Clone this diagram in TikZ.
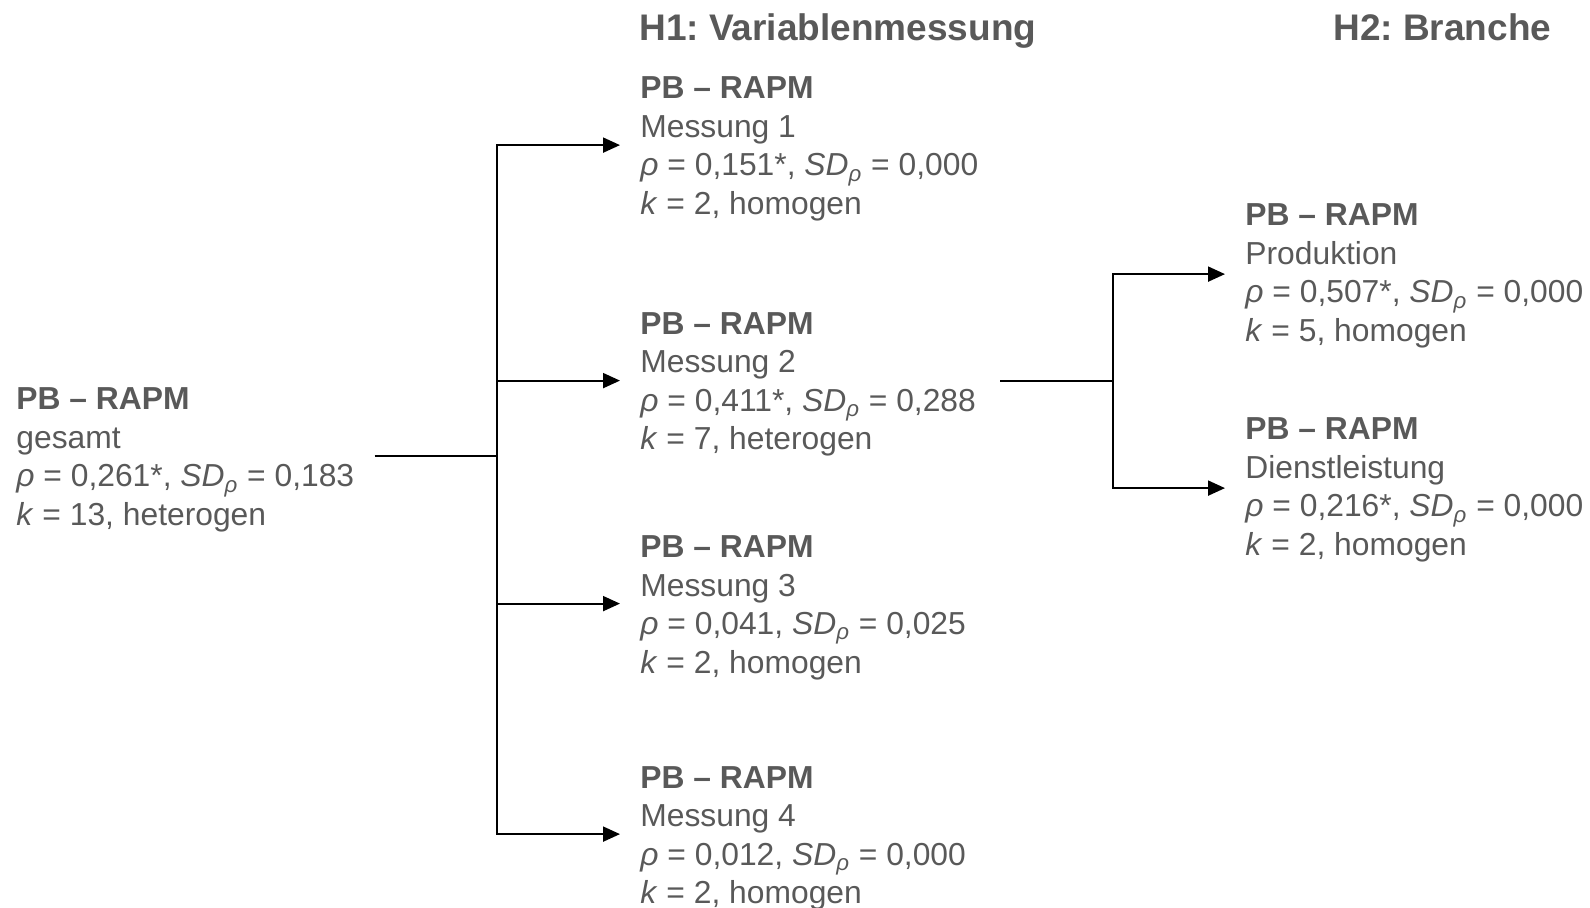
\documentclass[tikz,border=0pt]{standalone}
\usepackage{fontspec}
\setmainfont{Liberation Sans}
\usetikzlibrary{positioning,arrows.meta}
\definecolor{textgray}{HTML}{595959}
\frenchspacing

\newcommand{\rhoit}{\textit{ρ}}
\newcommand{\sdrho}{\textit{SD}\textsubscript{\textit{ρ}}}
\newcommand{\kit}{\textit{k}}

\begin{document}
\begin{tikzpicture}[x=0.5pt,y=-0.5pt,
  res/.style={align=left,inner xsep=10pt,inner ysep=0pt,anchor=base west,
    text=textgray,font=\fontsize{15.9}{19.25}\selectfont},
  head/.style={inner sep=0pt,anchor=base west,text=textgray,
    font=\fontsize{18.5}{22}\selectfont\bfseries},
  conn/.style={line width=1pt},
  arr/.style={conn,-{Triangle[length=8.5pt,width=7.5pt]}}]
\useasboundingbox (0,0) rectangle (1590,908);

% headers
\node[head] (h1) at (639,40.5) {H1: Variablenmessung};
\node[head] (h2) at (1333,40.5) {H2: Branche};

% overall effect (positions = baseline of last line)
\node[res] (gesamt) at (-4,525.5) {\textbf{PB – RAPM}\\gesamt\\\rhoit{} = 0,261*, \sdrho{} = 0,183\\\kit{} = 13, heterogen};

% H1
\node[res] (m1) at (620,214.5) {\textbf{PB – RAPM}\\Messung 1\\\rhoit{} = 0,151*, \sdrho{} = 0,000\\\kit{} = 2, homogen};
\node[res] (m2) at (620,450) {\textbf{PB – RAPM}\\Messung 2\\\rhoit{} = 0,411*, \sdrho{} = 0,288\\\kit{} = 7, heterogen};
\node[res] (m3) at (620,673) {\textbf{PB – RAPM}\\Messung 3\\\rhoit{} = 0,041, \sdrho{} = 0,025\\\kit{} = 2, homogen};
\node[res] (m4) at (620,903.5) {\textbf{PB – RAPM}\\Messung 4\\\rhoit{} = 0,012, \sdrho{} = 0,000\\\kit{} = 2, homogen};

% H2
\node[res] (prod) at (1225,341.5) {\textbf{PB – RAPM}\\Produktion\\\rhoit{} = 0,507*, \sdrho{} = 0,000\\\kit{} = 5, homogen};
\node[res] (dienst) at (1225,555.5) {\textbf{PB – RAPM}\\Dienstleistung\\\rhoit{} = 0,216*, \sdrho{} = 0,000\\\kit{} = 2, homogen};

% connectors
\coordinate (split1) at (497,456);
\coordinate (split2) at (1113,381);
\draw[conn] (gesamt.east |- split1) -- (split1);
\draw[arr] (split1) |- ([yshift=2pt]m1.west);
\draw[arr] (split1) |- ([yshift=2pt]m2.west);
\draw[arr] (split1) |- ([yshift=2pt]m3.west);
\draw[arr] (split1) |- ([yshift=2pt]m4.west);
\draw[conn] ([xshift=2pt]m2.east |- split2) -- (split2);
\draw[arr] (split2) |- ([yshift=1pt]prod.west);
\draw[arr] (split2) |- ([yshift=1pt]dienst.west);
\end{tikzpicture}
\end{document}
